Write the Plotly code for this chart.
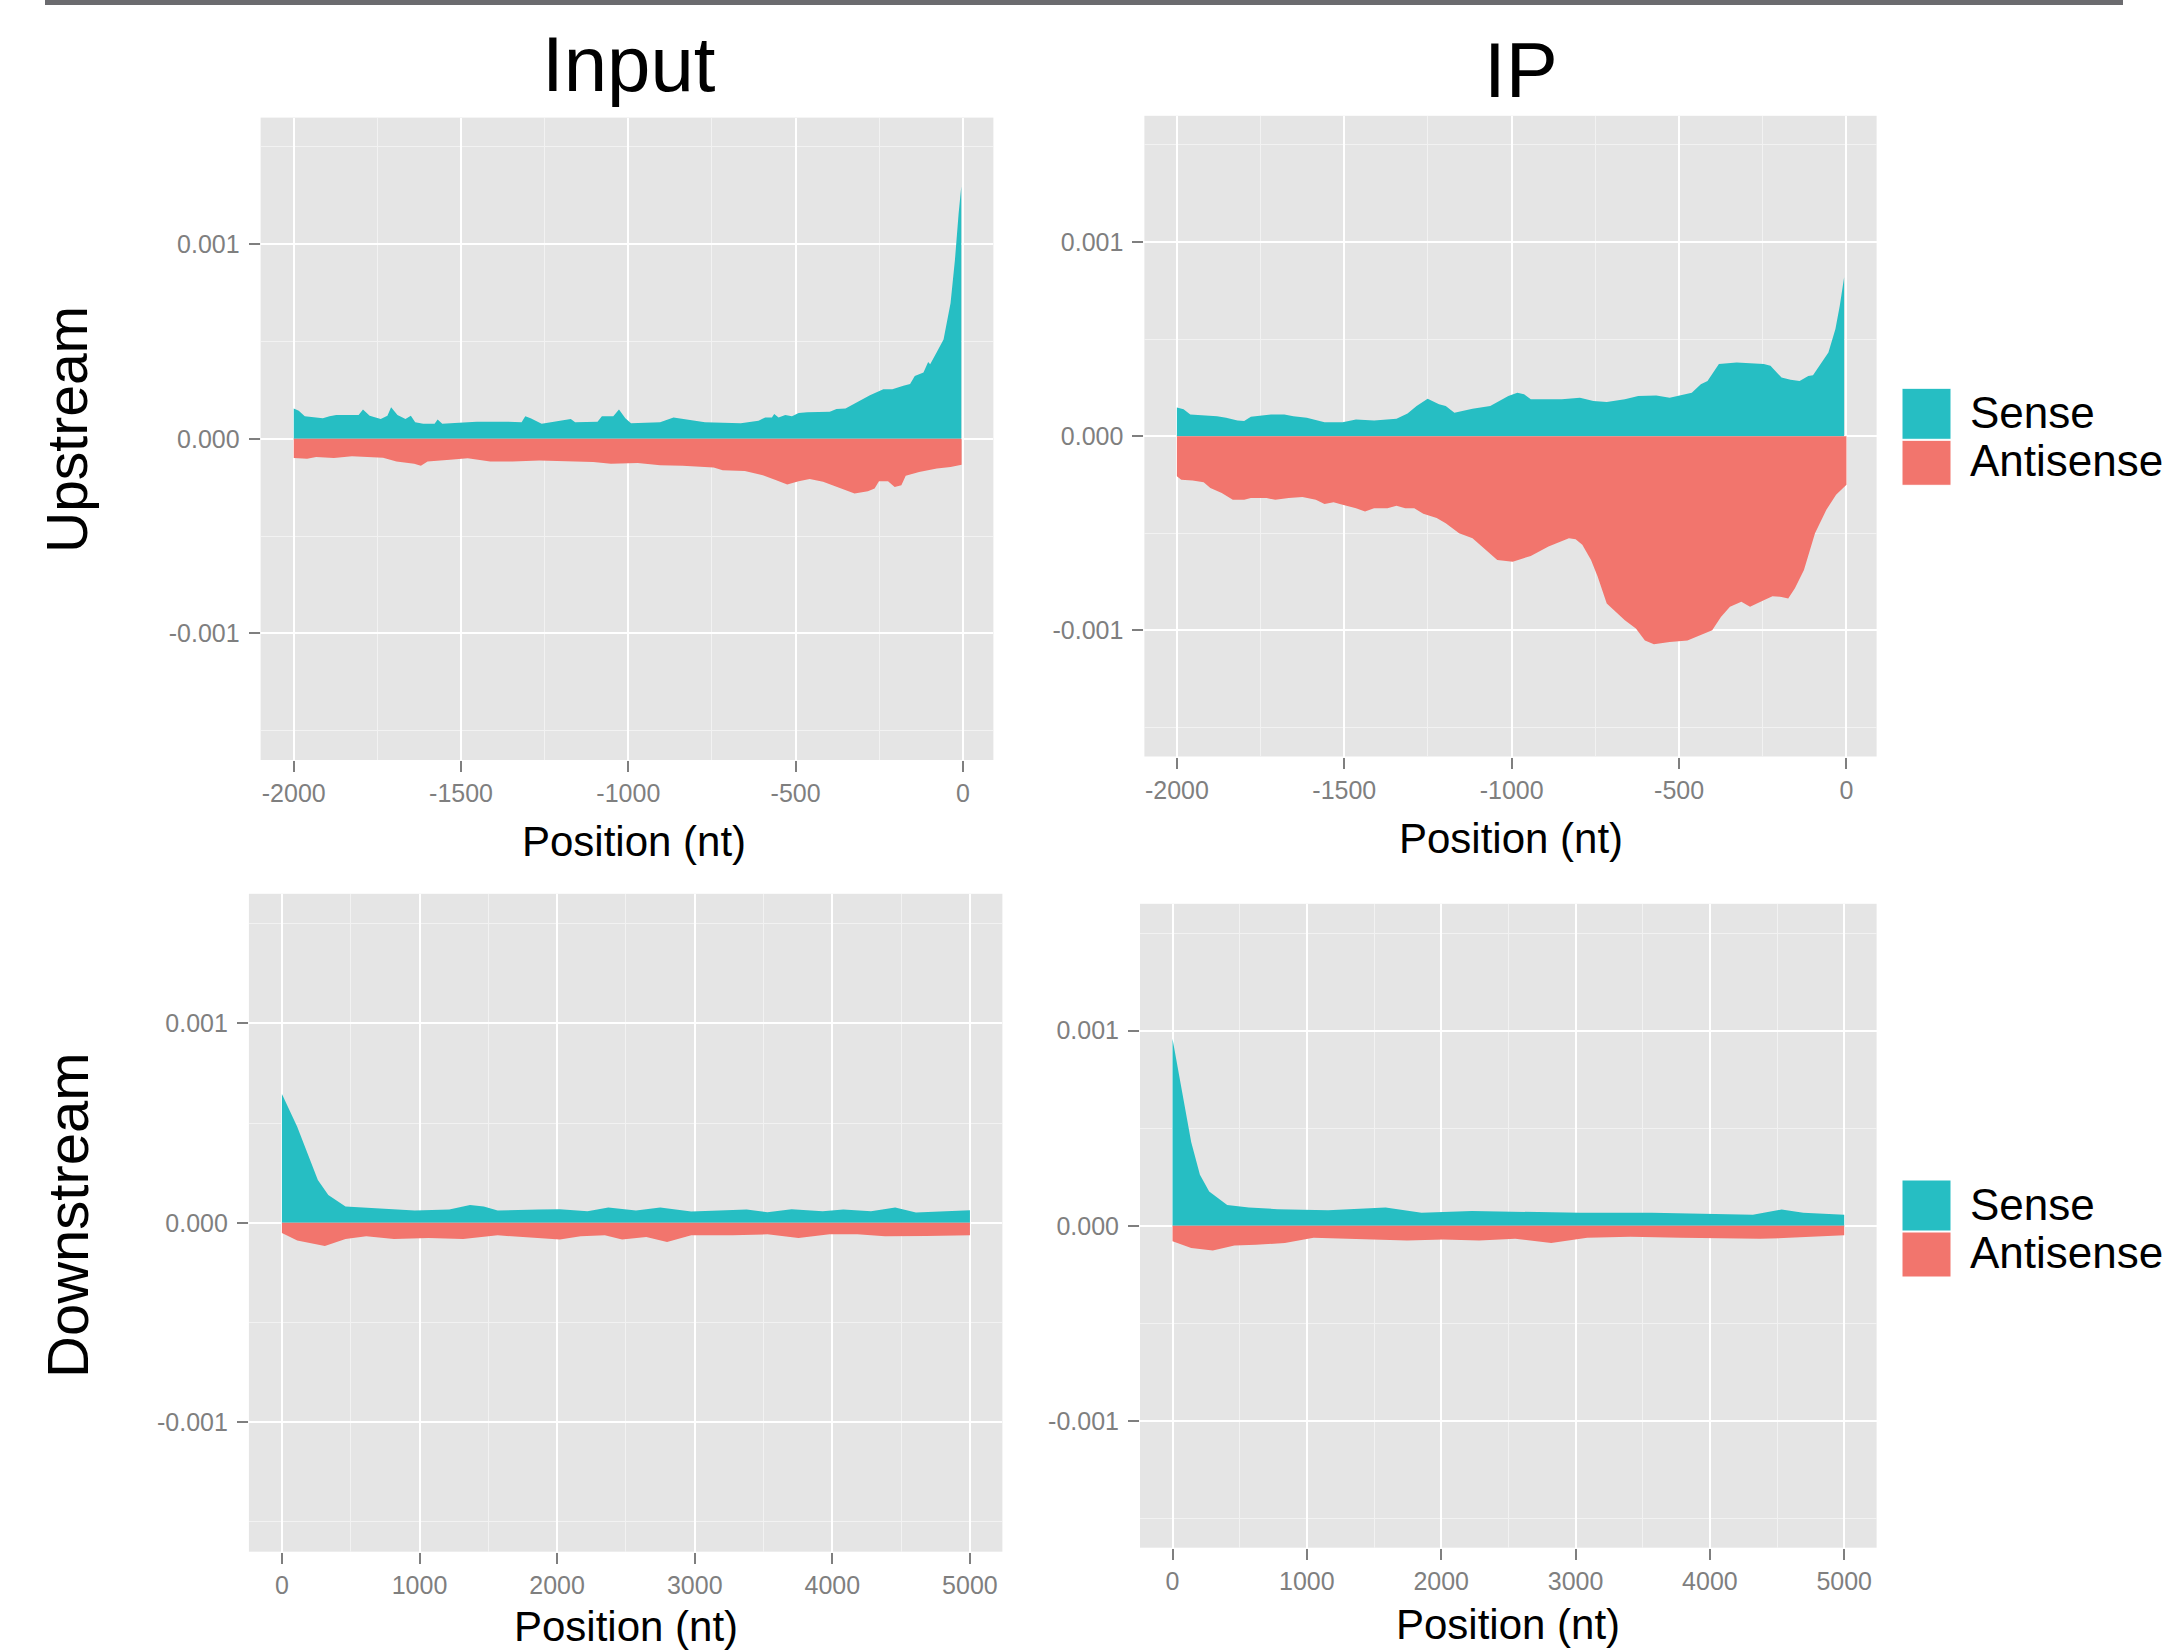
import plotly.graph_objects as go

W, H = 2169, 1650
FONT = "Liberation Sans, Arial, Helvetica, sans-serif"
SENSE_COLOR = "#26BEC3"
ANTI_COLOR = "#F2756D"

# ---------------- data ----------------
# Input, upstream
in_up_sense_x = [-2000, -1985, -1967, -1933, -1913, -1893, -1873, -1806, -1793, -1773, -1740, -1720, -1709,
                 -1690, -1666, -1650, -1637, -1613, -1579, -1570, -1556, -1506, -1453, -1359, -1319, -1308,
                 -1292, -1259, -1212, -1172, -1159, -1092, -1079, -1045, -1028, -1009, -992, -905, -865,
                 -838, -771, -664, -611, -591, -571, -564, -551, -531, -511, -491, -465, -398, -378, -351,
                 -318, -278, -238, -211, -178, -158, -144, -118, -104, -98, -78, -58, -37, -24, -13, -5]
in_up_sense_y = [0.000156, 0.000144, 0.000116, 0.000110, 0.000105, 0.000116, 0.000122, 0.000122, 0.000150,
                 0.000119, 0.000102, 0.000119, 0.000162, 0.000122, 0.000102, 0.000119, 0.000085, 0.000077,
                 0.000077, 0.000099, 0.000077, 0.000082, 0.000088, 0.000088, 0.000085, 0.000116, 0.000105,
                 0.000077, 0.000090, 0.000102, 0.000085, 0.000088, 0.000116, 0.000116, 0.000150, 0.000105,
                 0.000080, 0.000085, 0.000110, 0.000102, 0.000085, 0.000080, 0.000093, 0.000110, 0.000110,
                 0.000128, 0.000110, 0.000122, 0.000116, 0.000133, 0.000136, 0.000139, 0.000153, 0.000156,
                 0.000187, 0.000224, 0.000255, 0.000255, 0.000272, 0.000281, 0.000323, 0.000340, 0.000395,
                 0.000383, 0.000446, 0.000510, 0.000697, 0.000918, 0.001156, 0.001296]
in_up_anti_x = [-2000, -1960, -1933, -1880, -1826, -1733, -1693, -1660, -1640, -1620, -1600, -1533, -1480,
                -1413, -1346, -1266, -1159, -1105, -1052, -972, -905, -838, -745, -718, -652, -598, -558,
                -525, -491, -458, -418, -378, -355, -324, -284, -264, -251, -224, -204, -184, -171, -131,
                -78, -37, -4]
in_up_anti_y = [-0.000099, -0.000102, -0.000094, -0.000099, -0.000090, -0.000097, -0.000116, -0.000122,
                -0.000128, -0.000139, -0.000116, -0.000107, -0.000100, -0.000116, -0.000116, -0.000111,
                -0.000114, -0.000119, -0.000128, -0.000124, -0.000136, -0.000139, -0.000148, -0.000162,
                -0.000165, -0.000187, -0.000213, -0.000235, -0.000218, -0.000207, -0.000221, -0.000247,
                -0.000264, -0.000281, -0.000269, -0.000255, -0.000218, -0.000218, -0.000247, -0.000238,
                -0.000190, -0.000170, -0.000153, -0.000145, -0.000133]

# IP, upstream
ip_up_sense_x = [-2000, -1980, -1960, -1920, -1880, -1853, -1819, -1799, -1779, -1719, -1679, -1652, -1612,
                 -1559, -1505, -1465, -1411, -1344, -1311, -1284, -1251, -1217, -1197, -1171, -1117, -1064,
                 -1037, -1010, -983, -963, -943, -916, -890, -850, -796, -756, -716, -662, -622, -568, -528,
                 -502, -462, -435, -415, -381, -328, -247, -227, -194, -167, -140, -114, -100, -74, -54,
                 -33, -20, -7]
ip_up_sense_y = [0.000147, 0.000138, 0.000112, 0.000107, 0.000103, 0.000095, 0.000081, 0.000078, 0.000100,
                 0.000112, 0.000112, 0.000103, 0.000095, 0.000072, 0.000072, 0.000086, 0.000081, 0.000090,
                 0.000117, 0.000155, 0.000193, 0.000164, 0.000155, 0.000121, 0.000141, 0.000155, 0.000181,
                 0.000207, 0.000224, 0.000216, 0.000190, 0.000190, 0.000193, 0.000190, 0.000198, 0.000181,
                 0.000176, 0.000190, 0.000207, 0.000210, 0.000198, 0.000207, 0.000224, 0.000267, 0.000284,
                 0.000371, 0.000379, 0.000371, 0.000362, 0.000302, 0.000290, 0.000284, 0.000310, 0.000314,
                 0.000379, 0.000431, 0.000552, 0.000672, 0.000819]
ip_up_anti_x = [-2000, -1987, -1953, -1920, -1900, -1866, -1833, -1799, -1779, -1732, -1706, -1666, -1625,
                -1585, -1559, -1532, -1505, -1465, -1438, -1411, -1371, -1344, -1318, -1291, -1264, -1224,
                -1197, -1157, -1117, -1077, -1043, -997, -970, -943, -890, -850, -829, -809, -789, -763,
                -743, -716, -689, -662, -629, -602, -575, -528, -475, -435, -401, -375, -348, -314, -288,
                -247, -221, -194, -174, -154, -127, -94, -60, -31, 0]
ip_up_anti_y = [-0.000207, -0.000224, -0.000228, -0.000238, -0.000267, -0.000293, -0.000328, -0.000328,
                -0.000319, -0.000319, -0.000328, -0.000319, -0.000314, -0.000328, -0.000350, -0.000341,
                -0.000353, -0.000371, -0.000388, -0.000371, -0.000371, -0.000359, -0.000371, -0.000371,
                -0.000400, -0.000422, -0.000448, -0.000500, -0.000526, -0.000586, -0.000638, -0.000647,
                -0.000634, -0.000617, -0.000569, -0.000543, -0.000526, -0.000531, -0.000560, -0.000638,
                -0.000724, -0.000862, -0.000905, -0.000948, -0.000991, -0.001052, -0.001072, -0.001060,
                -0.001052, -0.001026, -0.001000, -0.000931, -0.000879, -0.000853, -0.000879, -0.000845,
                -0.000824, -0.000828, -0.000836, -0.000784, -0.000690, -0.000500, -0.000379, -0.000302,
                -0.000250]

# Input, downstream
in_dn_sense_x = [0, 111, 261, 337, 462, 613, 764, 965, 1216, 1367, 1467, 1568, 1869, 2020, 2221, 2372, 2573,
                 2749, 2975, 3226, 3377, 3528, 3704, 3930, 4080, 4281, 4457, 4608, 5000]
in_dn_sense_y = [0.000646, 0.000481, 0.000215, 0.000139, 0.000081, 0.000076, 0.000071, 0.000061, 0.000066,
                 0.000089, 0.000081, 0.000061, 0.000066, 0.000068, 0.000058, 0.000076, 0.000061, 0.000076,
                 0.000056, 0.000063, 0.000066, 0.000053, 0.000068, 0.000058, 0.000066, 0.000058, 0.000076,
                 0.000051, 0.000063]
in_dn_anti_x = [0, 111, 312, 462, 613, 814, 1065, 1317, 1568, 1869, 2020, 2171, 2347, 2472, 2648, 2799, 2975,
                3276, 3528, 3754, 3980, 4181, 4382, 4683, 5000]
in_dn_anti_y = [-0.000051, -0.000089, -0.000116, -0.000081, -0.000068, -0.000081, -0.000076, -0.000081,
                -0.000063, -0.000076, -0.000084, -0.000068, -0.000063, -0.000084, -0.000071, -0.000096,
                -0.000063, -0.000063, -0.000058, -0.000076, -0.000058, -0.000058, -0.000068, -0.000066,
                -0.000063]

# IP, downstream
ip_dn_sense_x = [0, 59, 139, 204, 273, 407, 568, 782, 1158, 1586, 1854, 2229, 2497, 2765, 3033, 3569, 3998,
                 4320, 4534, 4695, 5000]
ip_dn_sense_y = [0.000959, 0.000739, 0.000429, 0.000261, 0.000176, 0.000106, 0.000093, 0.000085, 0.000080,
                 0.000093, 0.000067, 0.000075, 0.000072, 0.000072, 0.000067, 0.000067, 0.000062, 0.000057,
                 0.000083, 0.000067, 0.000057]
ip_dn_anti_x = [0, 139, 300, 461, 622, 836, 1050, 1426, 1747, 2015, 2283, 2551, 2819, 3087, 3409, 3784, 4373,
                4588, 5000]
ip_dn_anti_y = [-0.000080, -0.000114, -0.000127, -0.000101, -0.000098, -0.000088, -0.000062, -0.000067,
                -0.000075, -0.000070, -0.000075, -0.000067, -0.000088, -0.000062, -0.000057, -0.000062,
                -0.000067, -0.000062, -0.000049]

series_names = ["Sense", "Antisense"]
col_titles = ["Input", "IP"]
row_titles = ["Upstream", "Downstream"]
x_title = "Position (nt)"

up_tickvals = [-2000, -1500, -1000, -500, 0]
up_ticktext = ["-2000", "-1500", "-1000", "-500", "0"]
up_minor = [-1750, -1250, -750, -250]
dn_tickvals = [0, 1000, 2000, 3000, 4000, 5000]
dn_ticktext = ["0", "1000", "2000", "3000", "4000", "5000"]
dn_minor = [500, 1500, 2500, 3500, 4500]
y_tickvals = [-0.001, 0.0, 0.001]
y_ticktext = ["-0.001", "0.000", "0.001"]
y_minor = [-0.0015, -0.0005, 0.0005, 0.0015]

# ---------------- layout geometry (pixels) ----------------
def px_x(x):
    return x / W

def px_y(y):
    return 1 - y / H

panels = [
    dict(ax="", xd=(260.6, 993.4), yd=(117.6, 760.0), xr=[-2099, 91],
         data=(in_up_sense_x, in_up_sense_y, in_up_anti_x, in_up_anti_y),
         tv=up_tickvals, tt=up_ticktext, mv=up_minor),
    dict(ax="2", xd=(1144.4, 1876.6), yd=(115.8, 756.5), xr=[-2097, 90],
         data=(ip_up_sense_x, ip_up_sense_y, ip_up_anti_x, ip_up_anti_y),
         tv=up_tickvals, tt=up_ticktext, mv=up_minor),
    dict(ax="3", xd=(248.9, 1002.4), yd=(893.8, 1551.7), xr=[-240, 5236],
         data=(in_dn_sense_x, in_dn_sense_y, in_dn_anti_x, in_dn_anti_y),
         tv=dn_tickvals, tt=dn_ticktext, mv=dn_minor),
    dict(ax="4", xd=(1140.0, 1876.6), yd=(903.8, 1547.7), xr=[-242, 5241],
         data=(ip_dn_sense_x, ip_dn_sense_y, ip_dn_anti_x, ip_dn_anti_y),
         tv=dn_tickvals, tt=dn_ticktext, mv=dn_minor),
]

fig = go.Figure()
tick_font = dict(family=FONT, size=25, color="#7F7F7F")
layout_axes = {}
for p in panels:
    sx, sy, ax_, ay_ = p["data"]
    xa = "x" + p["ax"]
    ya = "y" + p["ax"]
    fig.add_trace(go.Scatter(x=sx, y=sy, name=series_names[0], mode="lines", fill="tozeroy",
                             fillcolor=SENSE_COLOR, line=dict(width=0, color=SENSE_COLOR),
                             xaxis=xa, yaxis=ya, showlegend=False, hoverinfo="x+y+name"))
    fig.add_trace(go.Scatter(x=ax_, y=ay_, name=series_names[1], mode="lines", fill="tozeroy",
                             fillcolor=ANTI_COLOR, line=dict(width=0, color=ANTI_COLOR),
                             xaxis=xa, yaxis=ya, showlegend=False, hoverinfo="x+y+name"))
    layout_axes["xaxis" + p["ax"]] = dict(
        domain=[px_x(p["xd"][0]), px_x(p["xd"][1])], anchor=ya, range=p["xr"],
        tickmode="array", tickvals=p["tv"], ticktext=p["tt"], ticks="outside", ticklen=11,
        tickwidth=2, tickcolor="#7F7F7F", tickfont=tick_font, showgrid=True, gridcolor="white",
        gridwidth=2, zeroline=False, showline=False, ticklabelstandoff=0,
        minor=dict(tickvals=p["mv"], showgrid=True, gridcolor="#F2F2F2", gridwidth=1, ticks=""),
    )
    layout_axes["yaxis" + p["ax"]] = dict(
        domain=[px_y(p["yd"][1]), px_y(p["yd"][0])], anchor=xa, range=[-0.00165, 0.00165],
        tickmode="array", tickvals=y_tickvals, ticktext=y_ticktext, ticks="outside", ticklen=11,
        tickwidth=2, tickcolor="#7F7F7F", tickfont=tick_font, showgrid=True, gridcolor="white",
        gridwidth=2, zeroline=False, showline=False, ticklabelstandoff=4,
        minor=dict(tickvals=y_minor, showgrid=True, gridcolor="#F2F2F2", gridwidth=1, ticks=""),
    )

annotations = []
shapes = []

def text(x, y, s, size, xanchor="center", yanchor="middle", angle=0, color="black"):
    annotations.append(dict(x=px_x(x), y=px_y(y), xref="paper", yref="paper", text=s, showarrow=False,
                            xanchor=xanchor, yanchor=yanchor, textangle=angle,
                            font=dict(family=FONT, size=size, color=color)))

# column titles
text(629, 64, col_titles[0], 78)
text(1521, 70, col_titles[1], 78)
# row titles
text(67, 430, row_titles[0], 57, angle=-90)
text(67, 1215, row_titles[1], 58, angle=-90)
# x axis titles
text(634, 842, x_title, 42)
text(1511, 838, x_title, 42)
text(626, 1626, x_title, 42)
text(1508, 1624, x_title, 42)

# legends (manual, ggplot-style large keys)
for top in (388.3, 1180.0):
    shapes.append(dict(type="rect", xref="paper", yref="paper", x0=px_x(1902), x1=px_x(1951),
                       y0=px_y(top + 51), y1=px_y(top), fillcolor=SENSE_COLOR,
                       line=dict(color="white", width=1), layer="above"))
    shapes.append(dict(type="rect", xref="paper", yref="paper", x0=px_x(1902), x1=px_x(1951),
                       y0=px_y(top + 97), y1=px_y(top + 52), fillcolor=ANTI_COLOR,
                       line=dict(color="white", width=1), layer="above"))
    text(1968, top + 24.5, series_names[0], 44, xanchor="left")
    text(1968, top + 72, series_names[1], 44, xanchor="left")

# top dark banner line
shapes.append(dict(type="rect", xref="paper", yref="paper", x0=px_x(45), x1=px_x(2123),
                   y0=px_y(5), y1=px_y(0), fillcolor="#6B6B6F", line=dict(width=0)))

fig.update_layout(
    width=W, height=H, margin=dict(l=0, r=0, t=0, b=0),
    paper_bgcolor="white", plot_bgcolor="#E5E5E5",
    font=dict(family=FONT), showlegend=False,
    annotations=annotations, shapes=shapes, **layout_axes,
)

fig.write_html("out.html", config={"displayModeBar": False},
               post_script="document.body.style.margin='0px';document.body.style.padding='0px';"
                           "document.body.style.overflow='hidden';")
